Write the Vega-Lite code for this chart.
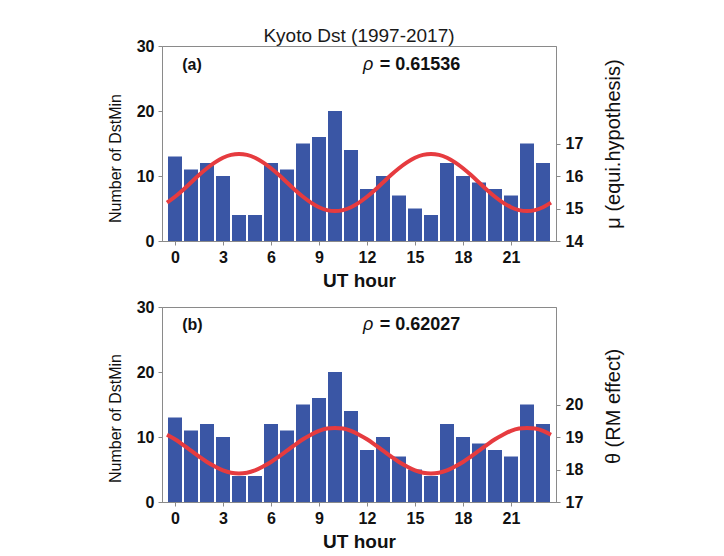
{
  "$schema": "https://vega.github.io/schema/vega-lite/v6.json",
  "background": "white",
  "padding": {"left": 106, "top": 26, "right": 10, "bottom": 5},
  "spacing": 7,
  "datasets": {
    "bars": [
      {"hour": 0, "count": 13}, {"hour": 1, "count": 11}, {"hour": 2, "count": 12}, {"hour": 3, "count": 10},
      {"hour": 4, "count": 4}, {"hour": 5, "count": 4}, {"hour": 6, "count": 12}, {"hour": 7, "count": 11},
      {"hour": 8, "count": 15}, {"hour": 9, "count": 16}, {"hour": 10, "count": 20}, {"hour": 11, "count": 14},
      {"hour": 12, "count": 8}, {"hour": 13, "count": 10}, {"hour": 14, "count": 7}, {"hour": 15, "count": 5},
      {"hour": 16, "count": 4}, {"hour": 17, "count": 12}, {"hour": 18, "count": 10}, {"hour": 19, "count": 9},
      {"hour": 20, "count": 8}, {"hour": 21, "count": 7}, {"hour": 22, "count": 15}, {"hour": 23, "count": 12}
    ],
    "curves": [
      {"hour": -0.5, "mu": 15.18, "theta": 19.07}, {"hour": 0, "mu": 15.36, "theta": 18.93},
      {"hour": 0.5, "mu": 15.57, "theta": 18.76}, {"hour": 1, "mu": 15.80, "theta": 18.58},
      {"hour": 1.5, "mu": 16.03, "theta": 18.40}, {"hour": 2, "mu": 16.24, "theta": 18.23},
      {"hour": 2.5, "mu": 16.42, "theta": 18.09}, {"hour": 3, "mu": 16.56, "theta": 17.97},
      {"hour": 3.5, "mu": 16.65, "theta": 17.90}, {"hour": 4, "mu": 16.68, "theta": 17.88},
      {"hour": 4.5, "mu": 16.65, "theta": 17.90}, {"hour": 5, "mu": 16.56, "theta": 17.97},
      {"hour": 5.5, "mu": 16.42, "theta": 18.09}, {"hour": 6, "mu": 16.24, "theta": 18.23},
      {"hour": 6.5, "mu": 16.03, "theta": 18.40}, {"hour": 7, "mu": 15.80, "theta": 18.58},
      {"hour": 7.5, "mu": 15.57, "theta": 18.76}, {"hour": 8, "mu": 15.36, "theta": 18.93},
      {"hour": 8.5, "mu": 15.18, "theta": 19.07}, {"hour": 9, "mu": 15.04, "theta": 19.19},
      {"hour": 9.5, "mu": 14.95, "theta": 19.26}, {"hour": 10, "mu": 14.92, "theta": 19.28},
      {"hour": 10.5, "mu": 14.95, "theta": 19.26}, {"hour": 11, "mu": 15.04, "theta": 19.19},
      {"hour": 11.5, "mu": 15.18, "theta": 19.07}, {"hour": 12, "mu": 15.36, "theta": 18.93},
      {"hour": 12.5, "mu": 15.57, "theta": 18.76}, {"hour": 13, "mu": 15.80, "theta": 18.58},
      {"hour": 13.5, "mu": 16.03, "theta": 18.40}, {"hour": 14, "mu": 16.24, "theta": 18.23},
      {"hour": 14.5, "mu": 16.42, "theta": 18.09}, {"hour": 15, "mu": 16.56, "theta": 17.97},
      {"hour": 15.5, "mu": 16.65, "theta": 17.90}, {"hour": 16, "mu": 16.68, "theta": 17.88},
      {"hour": 16.5, "mu": 16.65, "theta": 17.90}, {"hour": 17, "mu": 16.56, "theta": 17.97},
      {"hour": 17.5, "mu": 16.42, "theta": 18.09}, {"hour": 18, "mu": 16.24, "theta": 18.23},
      {"hour": 18.5, "mu": 16.03, "theta": 18.40}, {"hour": 19, "mu": 15.80, "theta": 18.58},
      {"hour": 19.5, "mu": 15.57, "theta": 18.76}, {"hour": 20, "mu": 15.36, "theta": 18.93},
      {"hour": 20.5, "mu": 15.18, "theta": 19.07}, {"hour": 21, "mu": 15.04, "theta": 19.19},
      {"hour": 21.5, "mu": 14.95, "theta": 19.26}, {"hour": 22, "mu": 14.92, "theta": 19.28},
      {"hour": 22.5, "mu": 14.95, "theta": 19.26}, {"hour": 23, "mu": 15.04, "theta": 19.19},
      {"hour": 23.5, "mu": 15.18, "theta": 19.07}
    ]
  },
  "vconcat": [
    {
      "width": 394,
      "height": 195,
      "title": {"text": "Kyoto Dst (1997-2017)", "fontSize": 19, "fontWeight": "normal", "color": "#1a1a1a", "offset": -8},
      "layer": [
        {
          "layer": [
            {
              "data": {"name": "bars"},
              "mark": {"type": "bar", "size": 14, "color": "#3A56A5"},
              "encoding": {
                "x": {"field": "hour", "type": "quantitative", "scale": {"domain": [-0.5, 23.5], "nice": false, "zero": false},
                      "axis": {"values": [0, 3, 6, 9, 12, 15, 18, 21], "title": "UT hour"}},
                "y": {"field": "count", "type": "quantitative", "scale": {"domain": [0, 30], "nice": false},
                      "axis": {"values": [0, 10, 20, 30], "title": "Number of DstMin", "orient": "left", "titleY": 112}}
              }
            },
            {
              "data": {"values": [{}]},
              "mark": {"type": "text", "align": "left", "baseline": "middle", "fontSize": 16, "fontWeight": "bold", "color": "#111"},
              "encoding": {"x": {"datum": 0.45}, "y": {"datum": 27.1}, "text": {"value": "(a)"}}
            },
            {
              "data": {"values": [{}]},
              "mark": {"type": "text", "align": "left", "baseline": "middle", "fontSize": 18, "fontStyle": "italic", "color": "#111"},
              "encoding": {"x": {"datum": 11.75}, "y": {"datum": 27.1}, "text": {"value": "ρ"}}
            },
            {
              "data": {"values": [{}]},
              "mark": {"type": "text", "align": "left", "baseline": "middle", "fontSize": 18, "fontWeight": "bold", "color": "#111"},
              "encoding": {"x": {"datum": 12.8}, "y": {"datum": 27.1}, "text": {"value": "= 0.61536"}}
            }
          ]
        },
        {
          "data": {"name": "curves"},
          "mark": {"type": "line", "color": "#E63B3F", "strokeWidth": 4, "interpolate": "monotone"},
          "encoding": {
            "x": {"field": "hour", "type": "quantitative"},
            "y": {"field": "mu", "type": "quantitative", "scale": {"domain": [14, 20], "nice": false, "zero": false},
                  "axis": {"orient": "right", "values": [14, 15, 16, 17], "title": "μ (equi.hypothesis)", "titleAngle": 270}}
          }
        }
      ],
      "resolve": {"scale": {"y": "independent"}}
    },
    {
      "width": 394,
      "height": 195,
      "layer": [
        {
          "layer": [
            {
              "data": {"name": "bars"},
              "mark": {"type": "bar", "size": 14, "color": "#3A56A5"},
              "encoding": {
                "x": {"field": "hour", "type": "quantitative", "scale": {"domain": [-0.5, 23.5], "nice": false, "zero": false},
                      "axis": {"values": [0, 3, 6, 9, 12, 15, 18, 21], "title": "UT hour"}},
                "y": {"field": "count", "type": "quantitative", "scale": {"domain": [0, 30], "nice": false},
                      "axis": {"values": [0, 10, 20, 30], "title": "Number of DstMin", "orient": "left", "titleY": 111}}
              }
            },
            {
              "data": {"values": [{}]},
              "mark": {"type": "text", "align": "left", "baseline": "middle", "fontSize": 16, "fontWeight": "bold", "color": "#111"},
              "encoding": {"x": {"datum": 0.45}, "y": {"datum": 27.3}, "text": {"value": "(b)"}}
            },
            {
              "data": {"values": [{}]},
              "mark": {"type": "text", "align": "left", "baseline": "middle", "fontSize": 18, "fontStyle": "italic", "color": "#111"},
              "encoding": {"x": {"datum": 11.75}, "y": {"datum": 27.3}, "text": {"value": "ρ"}}
            },
            {
              "data": {"values": [{}]},
              "mark": {"type": "text", "align": "left", "baseline": "middle", "fontSize": 18, "fontWeight": "bold", "color": "#111"},
              "encoding": {"x": {"datum": 12.8}, "y": {"datum": 27.3}, "text": {"value": "= 0.62027"}}
            }
          ]
        },
        {
          "data": {"name": "curves"},
          "mark": {"type": "line", "color": "#E63B3F", "strokeWidth": 4, "interpolate": "monotone"},
          "encoding": {
            "x": {"field": "hour", "type": "quantitative"},
            "y": {"field": "theta", "type": "quantitative", "scale": {"domain": [17, 23], "nice": false, "zero": false},
                  "axis": {"orient": "right", "values": [17, 18, 19, 20], "title": "θ (RM effect)", "titleAngle": 270, "titleY": 99}}
          }
        }
      ],
      "resolve": {"scale": {"y": "independent"}}
    }
  ],
  "config": {
    "font": "Liberation Sans",
    "view": {"stroke": "#8a8a8a", "strokeWidth": 1},
    "axis": {
      "grid": false,
      "domainColor": "#8a8a8a",
      "tickColor": "#8a8a8a",
      "tickSize": 4,
      "labelFont": "Liberation Sans",
      "labelFontSize": 16,
      "labelFontWeight": "bold",
      "labelColor": "#111",
      "titleColor": "#111",
      "titleFontWeight": "normal"
    },
    "axisX": {"titleFontWeight": "bold", "titleFontSize": 19, "labelPadding": 4, "titlePadding": 6},
    "axisLeft": {"titleFontSize": 16, "labelPadding": 4, "titlePadding": 13},
    "axisRight": {"titleFontSize": 20, "labelPadding": 5, "titlePadding": 41}
  }
}
